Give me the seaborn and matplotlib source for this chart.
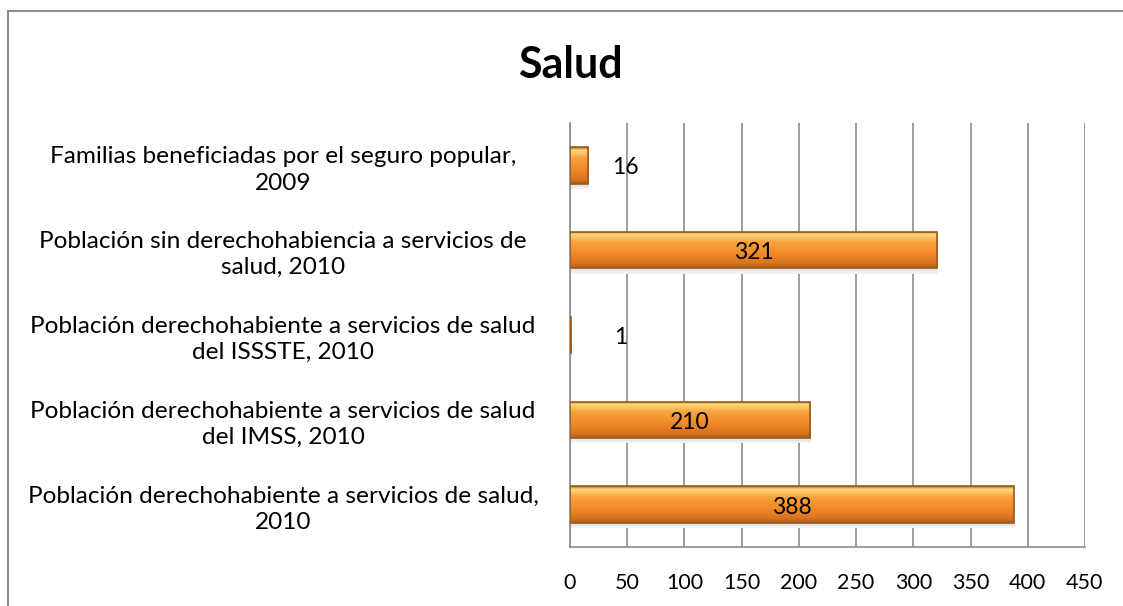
import numpy as np
import matplotlib
matplotlib.use('Agg')
import matplotlib.pyplot as plt
import seaborn as sns
import pandas as pd
from matplotlib.patches import Rectangle
from matplotlib.colors import LinearSegmentedColormap

categorias = [
    'Familias beneficiadas por el seguro popular,\n2009',
    'Población sin derechohabiencia a servicios de\nsalud, 2010',
    'Población derechohabiente a servicios de salud\ndel ISSSTE, 2010',
    'Población derechohabiente a servicios de salud\ndel IMSS, 2010',
    'Población derechohabiente a servicios de salud,\n2010',
]
valores = [16, 321, 1, 210, 388]
ticks_x = [0, 50, 100, 150, 200, 250, 300, 350, 400, 450]

sns.set_style('white')
plt.rcParams['font.family'] = ['Lato', 'DejaVu Sans']
plt.rcParams['text.color'] = 'black'
plt.rcParams['xtick.color'] = 'black'
plt.rcParams['ytick.color'] = 'black'

fig = plt.figure(figsize=(11.23, 6.06), dpi=100)
ax = fig.add_axes([0.5076, 0.0974, 0.4585, 0.6996])

df = pd.DataFrame({'cat': categorias, 'val': valores})
sns.barplot(data=df, y='cat', x='val', orient='h', width=0.43,
            color='#F28A2A', edgecolor='#9C5A17', linewidth=1.2,
            saturation=1, ax=ax)

ax.set_xlim(0, 450)
ax.set_ylim(4.5, -0.5)

# gradient fill like the office bar style
grad = LinearSegmentedColormap.from_list('barra', [
    (0.0, '#B8741E'), (0.08, '#FDD77C'), (0.3, '#F8A23C'),
    (0.6, '#F28A2A'), (0.88, '#D9721F'), (1.0, '#A8601A')])
g = np.linspace(0, 1, 64).reshape(-1, 1)
for p in list(ax.patches):
    x0, y0 = p.get_x(), p.get_y()
    w, h = p.get_width(), p.get_height()
    # soft shadow under the bar
    ax.add_patch(Rectangle((x0 + 1, y0 + h), w, 0.035, facecolor='#e4e4e4',
                           edgecolor='none', zorder=1.5))
    ax.add_patch(Rectangle((x0 + 1, y0 + h + 0.035), w, 0.025, facecolor='#f1f1f1',
                           edgecolor='none', zorder=1.5))
    im = ax.imshow(g, cmap=grad, aspect='auto', origin='upper',
                   extent=(x0, x0 + w, y0 + h, y0), zorder=2.5)
    im.set_clip_path(p)
    p.set_zorder(3)
    p.set_facecolor('none')
ax.set_xlim(0, 450)
ax.set_ylim(4.5, -0.5)

ax.set_xticks(ticks_x)
ax.set_xticklabels([str(t) for t in ticks_x], fontsize=15.5)
ax.tick_params(axis='x', length=0, pad=19, labelcolor='black')
ax.tick_params(axis='y', length=0, labelcolor='black')
for lbl in ax.get_yticklabels():
    lbl.set_fontsize(17.6)
    lbl.set_horizontalalignment('center')
    lbl.set_multialignment('center')
    lbl.set_linespacing(1.3)
    lbl.set_x(-0.548)
ax.set_ylabel('')
ax.set_xlabel('')
ax.grid(axis='x', color='#8c8c8c', linewidth=1.2)
ax.set_axisbelow(True)
for s in ['top', 'right']:
    ax.spines[s].set_visible(False)
for s in ['left', 'bottom']:
    ax.spines[s].set_color('#8c8c8c')
    ax.spines[s].set_linewidth(1.2)

for i, v in enumerate(valores):
    if v > 50:
        xt = v / 2
    else:
        xt = 44 + v * 0.25
    ax.text(xt, i + 0.03, str(v), ha='center', va='center', fontsize=16.5,
            color='black', zorder=5)

fig.text(0.508, 0.893, 'Salud', ha='center', va='center', fontsize=31,
         fontweight='bold', color='black')

fig.add_artist(Rectangle((8 / 1123, -0.05), 1.1, 1 - 11 / 606 + 0.05,
                         transform=fig.transFigure, fill=False,
                         edgecolor='#8c8c8c', linewidth=1.5))

fig.savefig('out.png', dpi=100)
